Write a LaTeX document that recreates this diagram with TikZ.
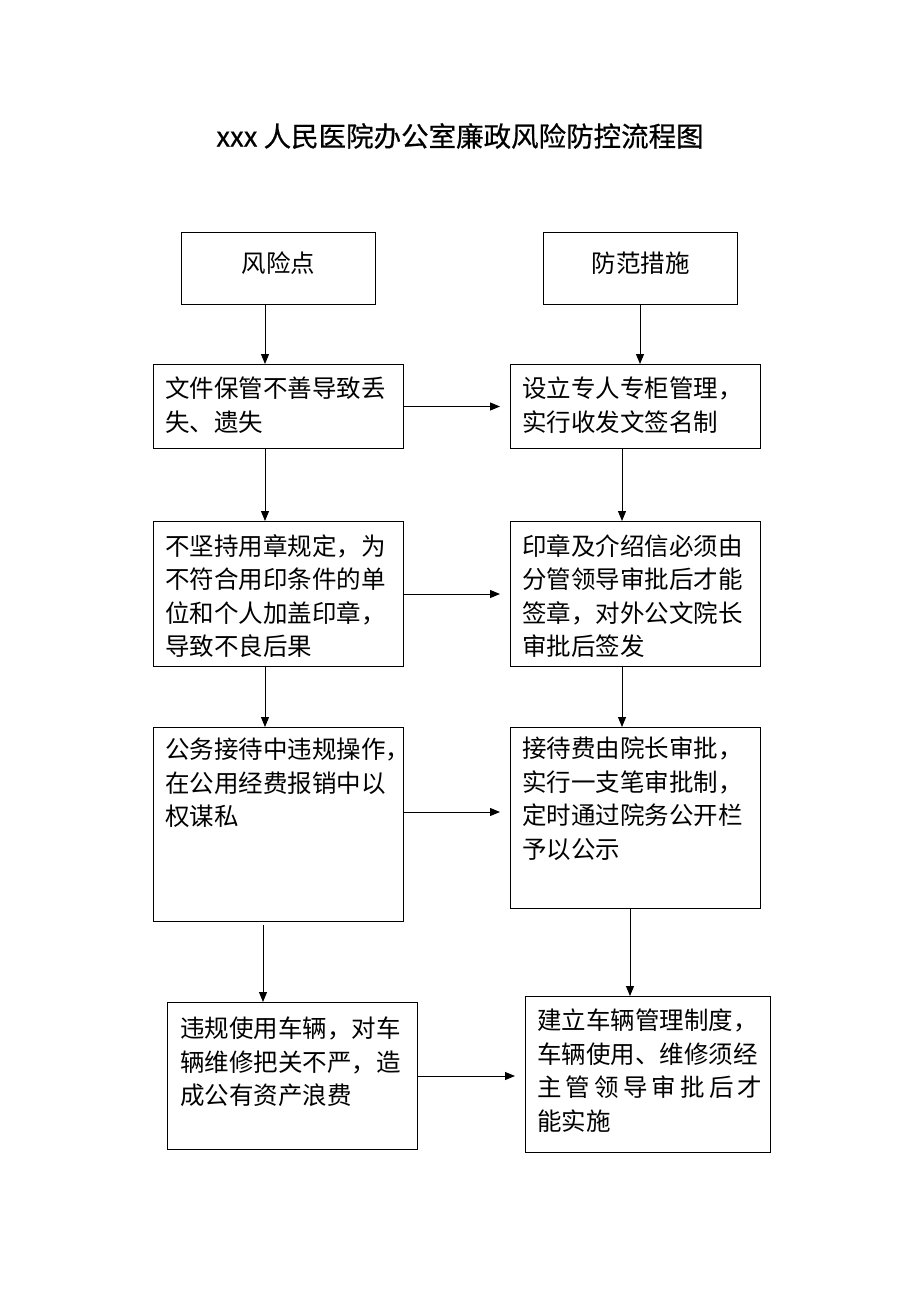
\documentclass[tikz,border=0pt]{standalone}
\usepackage{fontspec}
\newfontfamily\cjk{Noto Sans CJK SC}
\newfontfamily\cjkt[FakeBold=0.6]{Noto Sans CJK SC}
\usetikzlibrary{arrows.meta}
\tikzset{
  bx/.style={draw, line width=1pt, inner sep=0pt, anchor=north west},
  txt/.style={anchor=north west, inner sep=0pt, align=left, font=\cjk\fontsize{24.5}{33.5}\selectfont},
  arr/.style={line width=1pt, -{Triangle[length=10pt,width=8pt]}},
}
\begin{document}
\begin{tikzpicture}[x=1pt,y=-1pt]
\useasboundingbox (0,0) rectangle (920,1302);
\node[font=\cjkt\fontsize{27.5}{30}\selectfont] (title) at (460,136) {xxx 人民医院办公室廉政风险防控流程图};
% header boxes
\node[bx, minimum width=194pt, minimum height=72pt] (RP) at (181,232) {};
\node[font=\cjk\fontsize{24.5}{30}\selectfont] (RPt) at ([yshift=5pt]RP.center) {风险点};
\node[bx, minimum width=194pt, minimum height=72pt] (MP) at (543,232) {};
\node[font=\cjk\fontsize{24.5}{30}\selectfont] (MPt) at ([yshift=5pt]MP.center) {防范措施};
% left column
\node[bx, minimum width=250pt, minimum height=84pt] (L1) at (153,364) {};
\node[txt, text width=238pt] (L1t) at (165,377) {文件保管不善导致丢\\失、遗失};
\node[bx, minimum width=250pt, minimum height=145pt] (L2) at (153,521) {};
\node[txt, text width=238pt] (L2t) at (165,534) {不坚持用章规定，为\\不符合用印条件的单\\位和个人加盖印章，\\导致不良后果};
\node[bx, minimum width=250pt, minimum height=194pt] (L3) at (153,727) {};
\node[txt, text width=238pt] (L3t) at (165,738) {公务接待中违规操作，\\在公用经费报销中以\\权谋私};
\node[bx, minimum width=250pt, minimum height=147pt] (L4) at (167,1002) {};
\node[txt, text width=230pt] (L4t) at (180,1017) {违规使用车辆，对车\\辆维修把关不严，造\\成公有资产浪费};
% right column
\node[bx, minimum width=250pt, minimum height=84pt] (R1) at (510,364) {};
\node[txt, text width=236pt] (R1t) at (522,377) {设立专人专柜管理，\\实行收发文签名制};
\node[bx, minimum width=250pt, minimum height=145pt] (R2) at (510,521) {};
\node[txt, text width=236pt] (R2t) at (522,534) {印章及介绍信必须由\\分管领导审批后才能\\签章，对外公文院长\\审批后签发};
\node[bx, minimum width=250pt, minimum height=181pt] (R3) at (510,727) {};
\node[txt, text width=236pt] (R3t) at (522,737) {接待费由院长审批，\\实行一支笔审批制，\\定时通过院务公开栏\\予以公示};
\node[bx, minimum width=245pt, minimum height=156pt] (R4) at (525,996) {};
\node[txt, text width=225pt] (R4t) at (537,1009) {建立车辆管理制度，\\车辆使用、维修须经\\主\hfill 管\hfill 领\hfill 导\hfill 审\hfill 批\hfill 后\hfill 才\\能实施};
% helper coordinates
\coordinate (lx) at (265,0);
\coordinate (lx4) at (263,0);
\coordinate (rx0) at (640,0);
\coordinate (rx) at (622,0);
\coordinate (rx4) at (630,0);
\coordinate (y3) at (0,812);
% vertical arrows
\draw[arr] (RP.south -| lx) -- (L1.north -| lx);
\draw[arr] (L1.south -| lx) -- (L2.north -| lx);
\draw[arr] (L2.south -| lx) -- (L3.north -| lx);
\draw[arr] ([yshift=-3pt]L3.south -| lx4) -- (L4.north -| lx4);
\draw[arr] (MP.south -| rx0) -- (R1.north -| rx0);
\draw[arr] (R1.south -| rx) -- (R2.north -| rx);
\draw[arr] (R2.south -| rx) -- (R3.north -| rx);
\draw[arr] (R3.south -| rx4) -- (R4.north -| rx4);
% horizontal arrows
\draw[arr, shorten >=10pt] (L1.east) -- (L1.east -| R1.west);
\draw[arr, shorten >=10pt] (L2.east) -- (L2.east -| R2.west);
\draw[arr, shorten >=10pt] (L3.east |- y3) -- (R3.west |- y3);
\draw[arr, shorten >=10pt] (L4.east) -- (L4.east -| R4.west);
\end{tikzpicture}
\end{document}
